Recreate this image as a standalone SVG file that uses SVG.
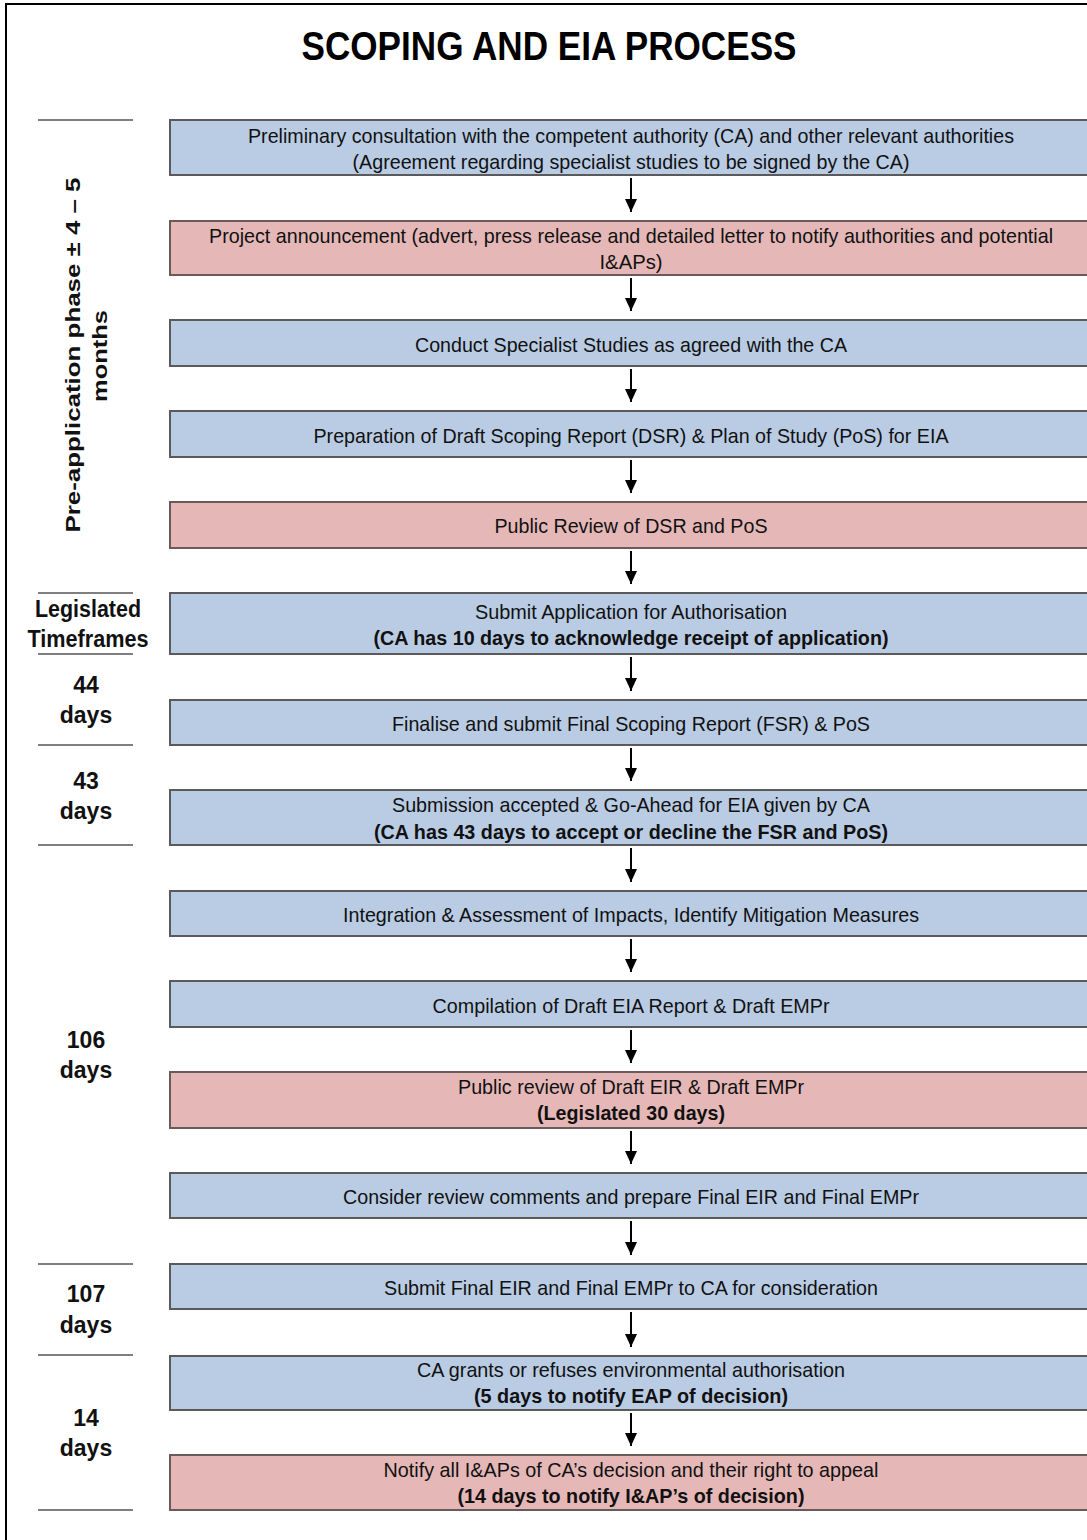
<svg xmlns="http://www.w3.org/2000/svg" width="1087" height="1540" viewBox="0 0 1087 1540">
<style>
.b{fill:#b9cce4;stroke:#5a5a5a;stroke-width:2}
.p{fill:#e5b8b7;stroke:#6a5a5a;stroke-width:2}
.t{font-family:"Liberation Sans",Arial,sans-serif;font-size:21px;fill:#111;text-anchor:middle}
.tb{font-family:"Liberation Sans",Arial,sans-serif;font-size:21px;font-weight:bold;fill:#111;text-anchor:middle}
.l{font-family:"Liberation Sans",Arial,sans-serif;font-size:23px;font-weight:bold;fill:#111;text-anchor:middle}
.sep{stroke:#555;stroke-width:1.5}
.ar{stroke:#000;stroke-width:2}
</style>
<defs>
<marker id="ah" markerWidth="14" markerHeight="12" refX="13" refY="6" orient="auto" markerUnits="userSpaceOnUse" viewBox="0 0 14 12">
<path d="M0,0 L13,6 L0,12 Z" fill="#000"/>
</marker>
</defs>
<rect x="0" y="0" width="1087" height="1540" fill="#fff"/>
<rect x="6" y="4" width="1100" height="1560" fill="none" stroke="#000" stroke-width="2"/>
<text x="549" y="60" font-family="'Liberation Sans',Arial,sans-serif" font-size="40" font-weight="bold" text-anchor="middle" textLength="495" lengthAdjust="spacingAndGlyphs" fill="#000">SCOPING AND EIA PROCESS</text>

<g id="left-labels">
<line class="sep" x1="38" y1="120" x2="133" y2="120"/>
<line class="sep" x1="38" y1="593" x2="133" y2="593"/>
<line class="sep" x1="38" y1="654" x2="133" y2="654"/>
<line class="sep" x1="38" y1="745" x2="133" y2="745"/>
<line class="sep" x1="38" y1="845" x2="133" y2="845"/>
<line class="sep" x1="38" y1="1264" x2="133" y2="1264"/>
<line class="sep" x1="38" y1="1355" x2="133" y2="1355"/>
<line class="sep" x1="38" y1="1510" x2="133" y2="1510"/>
<text transform="translate(80 355) rotate(-90)" text-anchor="middle" font-family="'Liberation Sans',Arial,sans-serif" font-size="20" font-weight="bold" fill="#111" textLength="355" lengthAdjust="spacingAndGlyphs">Pre-application phase ± 4 – 5</text>
<text transform="translate(107 356) rotate(-90)" text-anchor="middle" font-family="'Liberation Sans',Arial,sans-serif" font-size="20" font-weight="bold" fill="#111" textLength="92" lengthAdjust="spacingAndGlyphs">months</text>
<text class="l" x="88" y="617" textLength="106" lengthAdjust="spacingAndGlyphs">Legislated</text>
<text class="l" x="88" y="647" textLength="121" lengthAdjust="spacingAndGlyphs">Timeframes</text>
<text class="l" x="86" y="693">44</text>
<text class="l" x="86" y="723">days</text>
<text class="l" x="86" y="789">43</text>
<text class="l" x="86" y="819">days</text>
<text class="l" x="86" y="1048">106</text>
<text class="l" x="86" y="1078">days</text>
<text class="l" x="86" y="1302">107</text>
<text class="l" x="86" y="1333">days</text>
<text class="l" x="86" y="1426">14</text>
<text class="l" x="86" y="1456">days</text>
</g>

<g id="n1"><rect class="b" x="170" y="120" width="918" height="55"/>
<text class="t" x="631" y="143" textLength="766" lengthAdjust="spacingAndGlyphs">Preliminary consultation with the competent authority (CA) and other relevant authorities</text>
<text class="t" x="631" y="169" textLength="557" lengthAdjust="spacingAndGlyphs">(Agreement regarding specialist studies to be signed by the CA)</text></g>
<g id="n2"><rect class="p" x="170" y="221" width="918" height="54"/>
<text class="t" x="631" y="243" textLength="844" lengthAdjust="spacingAndGlyphs">Project announcement (advert, press release and detailed letter to notify authorities and potential</text>
<text class="t" x="631" y="269" textLength="63" lengthAdjust="spacingAndGlyphs">I&amp;APs)</text></g>
<g id="n3"><rect class="b" x="170" y="320" width="918" height="46"/>
<text class="t" x="631" y="352" textLength="432" lengthAdjust="spacingAndGlyphs">Conduct Specialist Studies as agreed with the CA</text></g>
<g id="n4"><rect class="b" x="170" y="411" width="918" height="46"/>
<text class="t" x="631" y="443" textLength="635" lengthAdjust="spacingAndGlyphs">Preparation of Draft Scoping Report (DSR) &amp; Plan of Study (PoS) for EIA</text></g>
<g id="n5"><rect class="p" x="170" y="502" width="918" height="46"/>
<text class="t" x="631" y="533" textLength="273" lengthAdjust="spacingAndGlyphs">Public Review of DSR and PoS</text></g>
<g id="n6"><rect class="b" x="170" y="593" width="918" height="61"/>
<text class="t" x="631" y="619" textLength="312" lengthAdjust="spacingAndGlyphs">Submit Application for Authorisation</text>
<text class="tb" x="631" y="645" textLength="515" lengthAdjust="spacingAndGlyphs">(CA has 10 days to acknowledge receipt of application)</text></g>
<g id="n7"><rect class="b" x="170" y="700" width="918" height="45"/>
<text class="t" x="631" y="731" textLength="478" lengthAdjust="spacingAndGlyphs">Finalise and submit Final Scoping Report (FSR) &amp; PoS</text></g>
<g id="n8"><rect class="b" x="170" y="790" width="918" height="55"/>
<text class="t" x="631" y="812" textLength="478" lengthAdjust="spacingAndGlyphs">Submission accepted &amp; Go-Ahead for EIA given by CA</text>
<text class="tb" x="631" y="839" textLength="514" lengthAdjust="spacingAndGlyphs">(CA has 43 days to accept or decline the FSR and PoS)</text></g>
<g id="n9"><rect class="b" x="170" y="891" width="918" height="45"/>
<text class="t" x="631" y="922" textLength="576" lengthAdjust="spacingAndGlyphs">Integration &amp; Assessment of Impacts, Identify Mitigation Measures</text></g>
<g id="n10"><rect class="b" x="170" y="981" width="918" height="46"/>
<text class="t" x="631" y="1013" textLength="397" lengthAdjust="spacingAndGlyphs">Compilation of Draft EIA Report &amp; Draft EMPr</text></g>
<g id="n11"><rect class="p" x="170" y="1072" width="918" height="56"/>
<text class="t" x="631" y="1094" textLength="346" lengthAdjust="spacingAndGlyphs">Public review of Draft EIR &amp; Draft EMPr</text>
<text class="tb" x="631" y="1120" textLength="188" lengthAdjust="spacingAndGlyphs">(Legislated 30 days)</text></g>
<g id="n12"><rect class="b" x="170" y="1173" width="918" height="45"/>
<text class="t" x="631" y="1204" textLength="576" lengthAdjust="spacingAndGlyphs">Consider review comments and prepare Final EIR and Final EMPr</text></g>
<g id="n13"><rect class="b" x="170" y="1264" width="918" height="45"/>
<text class="t" x="631" y="1295" textLength="494" lengthAdjust="spacingAndGlyphs">Submit Final EIR and Final EMPr to CA for consideration</text></g>
<g id="n14"><rect class="b" x="170" y="1356" width="918" height="54"/>
<text class="t" x="631" y="1377" textLength="428" lengthAdjust="spacingAndGlyphs">CA grants or refuses environmental authorisation</text>
<text class="tb" x="631" y="1403" textLength="314" lengthAdjust="spacingAndGlyphs">(5 days to notify EAP of decision)</text></g>
<g id="n15"><rect class="p" x="170" y="1455" width="918" height="55"/>
<text class="t" x="631" y="1477" textLength="495" lengthAdjust="spacingAndGlyphs">Notify all I&amp;APs of CA’s decision and their right to appeal</text>
<text class="tb" x="631" y="1503" textLength="347" lengthAdjust="spacingAndGlyphs">(14 days to notify I&amp;AP’s of decision)</text></g>

<g id="connectors">
<line class="ar" x1="631" y1="178" x2="631" y2="212" marker-end="url(#ah)"/>
<line class="ar" x1="631" y1="278" x2="631" y2="311" marker-end="url(#ah)"/>
<line class="ar" x1="631" y1="369" x2="631" y2="402" marker-end="url(#ah)"/>
<line class="ar" x1="631" y1="460" x2="631" y2="493" marker-end="url(#ah)"/>
<line class="ar" x1="631" y1="551" x2="631" y2="584" marker-end="url(#ah)"/>
<line class="ar" x1="631" y1="657" x2="631" y2="691" marker-end="url(#ah)"/>
<line class="ar" x1="631" y1="748" x2="631" y2="781" marker-end="url(#ah)"/>
<line class="ar" x1="631" y1="848" x2="631" y2="882" marker-end="url(#ah)"/>
<line class="ar" x1="631" y1="939" x2="631" y2="972" marker-end="url(#ah)"/>
<line class="ar" x1="631" y1="1030" x2="631" y2="1063" marker-end="url(#ah)"/>
<line class="ar" x1="631" y1="1131" x2="631" y2="1164" marker-end="url(#ah)"/>
<line class="ar" x1="631" y1="1221" x2="631" y2="1255" marker-end="url(#ah)"/>
<line class="ar" x1="631" y1="1312" x2="631" y2="1347" marker-end="url(#ah)"/>
<line class="ar" x1="631" y1="1413" x2="631" y2="1446" marker-end="url(#ah)"/>
</g>
</svg>
